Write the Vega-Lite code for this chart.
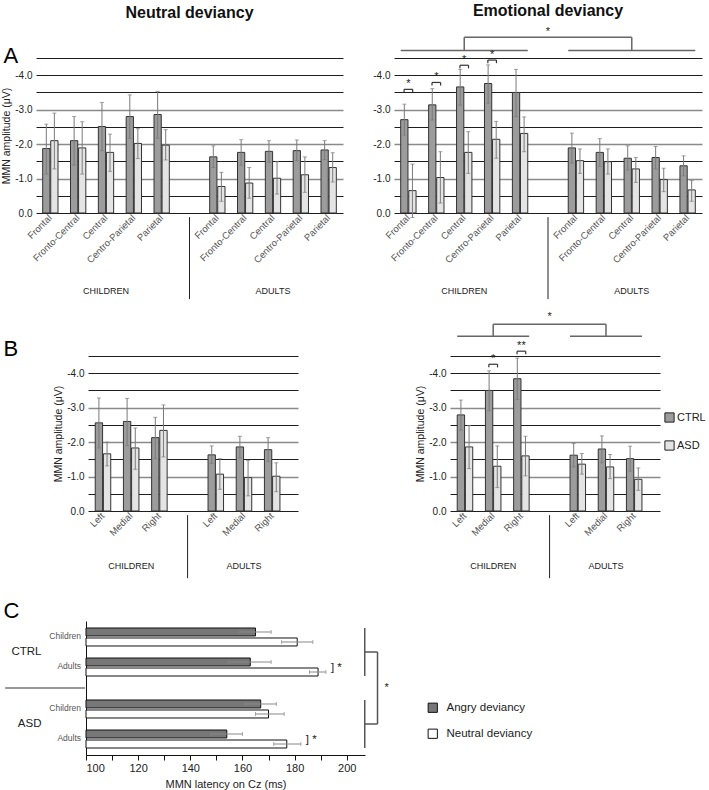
{
 "$schema": "https://vega.github.io/schema/vega-lite/v6.json",
 "padding": {"left": 1, "top": 2, "right": 1, "bottom": 2},
 "config": {"font": "Liberation Sans", "view": {"stroke": null}, "axis": {"labelFont": "Liberation Sans", "titleFont": "Liberation Sans"}, "legend": {"labelFont": "Liberation Sans"}},
 "datasets": {
  "amp": [
   {"p":"AN","k":"Children|Frontal","g":"CTRL","v":1.87,"lo":1.13,"hi":2.58},
   {"p":"AN","k":"Children|Frontal","g":"ASD","v":2.10,"lo":1.28,"hi":2.90},
   {"p":"AN","k":"Children|Fronto-Central","g":"CTRL","v":2.10,"lo":1.39,"hi":2.80},
   {"p":"AN","k":"Children|Fronto-Central","g":"ASD","v":1.89,"lo":1.13,"hi":2.65},
   {"p":"AN","k":"Children|Central","g":"CTRL","v":2.51,"lo":1.81,"hi":3.21},
   {"p":"AN","k":"Children|Central","g":"ASD","v":1.76,"lo":1.21,"hi":2.29},
   {"p":"AN","k":"Children|Centro-Parietal","g":"CTRL","v":2.80,"lo":2.17,"hi":3.43},
   {"p":"AN","k":"Children|Centro-Parietal","g":"ASD","v":2.02,"lo":1.58,"hi":2.45},
   {"p":"AN","k":"Children|Parietal","g":"CTRL","v":2.86,"lo":2.17,"hi":3.53},
   {"p":"AN","k":"Children|Parietal","g":"ASD","v":1.97,"lo":1.54,"hi":2.42},
   {"p":"AN","k":"Adults|Frontal","g":"CTRL","v":1.63,"lo":1.32,"hi":1.95},
   {"p":"AN","k":"Adults|Frontal","g":"ASD","v":0.77,"lo":0.34,"hi":1.18},
   {"p":"AN","k":"Adults|Fronto-Central","g":"CTRL","v":1.76,"lo":1.39,"hi":2.13},
   {"p":"AN","k":"Adults|Fronto-Central","g":"ASD","v":0.87,"lo":0.43,"hi":1.32},
   {"p":"AN","k":"Adults|Central","g":"CTRL","v":1.79,"lo":1.47,"hi":2.10},
   {"p":"AN","k":"Adults|Central","g":"ASD","v":1.01,"lo":0.55,"hi":1.49},
   {"p":"AN","k":"Adults|Centro-Parietal","g":"CTRL","v":1.81,"lo":1.52,"hi":2.12},
   {"p":"AN","k":"Adults|Centro-Parietal","g":"ASD","v":1.11,"lo":0.60,"hi":1.63},
   {"p":"AN","k":"Adults|Parietal","g":"CTRL","v":1.83,"lo":1.55,"hi":2.10},
   {"p":"AN","k":"Adults|Parietal","g":"ASD","v":1.32,"lo":0.90,"hi":1.75},
   {"p":"AE","k":"Children|Frontal","g":"CTRL","v":2.71,"lo":2.26,"hi":3.16},
   {"p":"AE","k":"Children|Frontal","g":"ASD","v":0.65,"lo":-0.13,"hi":1.42},
   {"p":"AE","k":"Children|Fronto-Central","g":"CTRL","v":3.14,"lo":2.70,"hi":3.61},
   {"p":"AE","k":"Children|Fronto-Central","g":"ASD","v":1.03,"lo":0.29,"hi":1.78},
   {"p":"AE","k":"Children|Central","g":"CTRL","v":3.66,"lo":3.13,"hi":4.17},
   {"p":"AE","k":"Children|Central","g":"ASD","v":1.76,"lo":1.15,"hi":2.36},
   {"p":"AE","k":"Children|Centro-Parietal","g":"CTRL","v":3.76,"lo":3.19,"hi":4.30},
   {"p":"AE","k":"Children|Centro-Parietal","g":"ASD","v":2.14,"lo":1.59,"hi":2.66},
   {"p":"AE","k":"Children|Parietal","g":"CTRL","v":3.50,"lo":2.80,"hi":4.17},
   {"p":"AE","k":"Children|Parietal","g":"ASD","v":2.31,"lo":1.78,"hi":2.79},
   {"p":"AE","k":"Adults|Frontal","g":"CTRL","v":1.89,"lo":1.45,"hi":2.32},
   {"p":"AE","k":"Adults|Frontal","g":"ASD","v":1.52,"lo":1.15,"hi":1.86},
   {"p":"AE","k":"Adults|Fronto-Central","g":"CTRL","v":1.76,"lo":1.35,"hi":2.16},
   {"p":"AE","k":"Adults|Fronto-Central","g":"ASD","v":1.49,"lo":1.13,"hi":1.86},
   {"p":"AE","k":"Adults|Central","g":"CTRL","v":1.59,"lo":1.25,"hi":1.95},
   {"p":"AE","k":"Adults|Central","g":"ASD","v":1.28,"lo":0.89,"hi":1.61},
   {"p":"AE","k":"Adults|Centro-Parietal","g":"CTRL","v":1.61,"lo":1.28,"hi":1.93},
   {"p":"AE","k":"Adults|Centro-Parietal","g":"ASD","v":0.97,"lo":0.62,"hi":1.30},
   {"p":"AE","k":"Adults|Parietal","g":"CTRL","v":1.37,"lo":1.08,"hi":1.66},
   {"p":"AE","k":"Adults|Parietal","g":"ASD","v":0.67,"lo":0.34,"hi":0.94},
   {"p":"BN","k":"Children|Left","g":"CTRL","v":2.56,"lo":1.83,"hi":3.28},
   {"p":"BN","k":"Children|Left","g":"ASD","v":1.66,"lo":1.31,"hi":2.00},
   {"p":"BN","k":"Children|Medial","g":"CTRL","v":2.60,"lo":1.90,"hi":3.27},
   {"p":"BN","k":"Children|Medial","g":"ASD","v":1.83,"lo":1.21,"hi":2.41},
   {"p":"BN","k":"Children|Right","g":"CTRL","v":2.13,"lo":1.52,"hi":2.72},
   {"p":"BN","k":"Children|Right","g":"ASD","v":2.34,"lo":1.57,"hi":3.08},
   {"p":"BN","k":"Adults|Left","g":"CTRL","v":1.63,"lo":1.38,"hi":1.89},
   {"p":"BN","k":"Adults|Left","g":"ASD","v":1.07,"lo":0.63,"hi":1.52},
   {"p":"BN","k":"Adults|Medial","g":"CTRL","v":1.86,"lo":1.54,"hi":2.17},
   {"p":"BN","k":"Adults|Medial","g":"ASD","v":0.97,"lo":0.44,"hi":1.47},
   {"p":"BN","k":"Adults|Right","g":"CTRL","v":1.78,"lo":1.44,"hi":2.13},
   {"p":"BN","k":"Adults|Right","g":"ASD","v":1.01,"lo":0.56,"hi":1.40},
   {"p":"BE","k":"Children|Left","g":"CTRL","v":2.79,"lo":2.35,"hi":3.22},
   {"p":"BE","k":"Children|Left","g":"ASD","v":1.86,"lo":1.23,"hi":2.48},
   {"p":"BE","k":"Children|Medial","g":"CTRL","v":3.50,"lo":2.91,"hi":4.07},
   {"p":"BE","k":"Children|Medial","g":"ASD","v":1.30,"lo":0.68,"hi":1.89},
   {"p":"BE","k":"Children|Right","g":"CTRL","v":3.84,"lo":3.24,"hi":4.44},
   {"p":"BE","k":"Children|Right","g":"ASD","v":1.60,"lo":1.02,"hi":2.17},
   {"p":"BE","k":"Adults|Left","g":"CTRL","v":1.62,"lo":1.28,"hi":1.96},
   {"p":"BE","k":"Adults|Left","g":"ASD","v":1.36,"lo":1.07,"hi":1.67},
   {"p":"BE","k":"Adults|Medial","g":"CTRL","v":1.80,"lo":1.40,"hi":2.18},
   {"p":"BE","k":"Adults|Medial","g":"ASD","v":1.28,"lo":0.94,"hi":1.64},
   {"p":"BE","k":"Adults|Right","g":"CTRL","v":1.52,"lo":1.16,"hi":1.88},
   {"p":"BE","k":"Adults|Right","g":"ASD","v":0.92,"lo":0.60,"hi":1.25}
  ],
  "lat": [
   {"grp":"CTRL","k":"Children Angry","age":"Children","cond":"Angry deviancy","lat":165,"lo":159,"hi":171},
   {"grp":"CTRL","k":"Children Neutral","age":"Children","cond":"Neutral deviancy","lat":181,"lo":175,"hi":187},
   {"grp":"CTRL","k":"Adults Angry","age":"Adults","cond":"Angry deviancy","lat":163,"lo":154.5,"hi":171},
   {"grp":"CTRL","k":"Adults Neutral","age":"Adults","cond":"Neutral deviancy","lat":189,"lo":185.7,"hi":192},
   {"grp":"ASD","k":"Children Angry","age":"Children","cond":"Angry deviancy","lat":167,"lo":161,"hi":173},
   {"grp":"ASD","k":"Children Neutral","age":"Children","cond":"Neutral deviancy","lat":170,"lo":165,"hi":176},
   {"grp":"ASD","k":"Adults Angry","age":"Adults","cond":"Angry deviancy","lat":154,"lo":148,"hi":160},
   {"grp":"ASD","k":"Adults Neutral","age":"Adults","cond":"Neutral deviancy","lat":177,"lo":172,"hi":182.4}
  ]
 },
 "columns": 1,
 "spacing": 10,
 "resolve": {"scale": {"x": "independent", "y": "independent", "xOffset": "independent", "yOffset": "independent", "fill": "independent"}, "legend": {"fill": "independent"}},
 "concat": [
  {
   "spacing": 29,
   "resolve": {"scale": {"x": "independent", "y": "independent", "xOffset": "independent", "fill": "independent"}, "legend": {"fill": "independent"}},
   "hconcat": [
    {
     "width": 307, "height": 155,
     "title": {"text": "Neutral deviancy", "fontSize": 16, "font": "Liberation Sans", "fontWeight": "bold", "anchor": "middle", "offset": 23, "color": "#111"},
     "resolve": {"axis": {"y": "independent"}},
     "layer": [
      {
       "data": {"name": "amp"},
       "transform": [{"filter": "datum.p == 'AN'"}],
       "encoding": {
        "x": {"field": "k", "type": "nominal", "sort": null,
              "scale": {"domain": ["Children|Frontal","Children|Fronto-Central","Children|Central","Children|Centro-Parietal","Children|Parietal","gap","Adults|Frontal","Adults|Fronto-Central","Adults|Central","Adults|Centro-Parietal","Adults|Parietal"], "paddingInner": 0.45, "paddingOuter": 0.24, "align": 0.5},
              "axis": {"title": null, "labelAngle": -45, "labelAlign": "right", "labelBaseline": "middle", "labelPadding": 3, "ticks": false, "domain": false, "grid": false, "labelColor": "#555", "labelFontSize": 9.5, "labelOverlap": false, "labelExpr": "indexof(datum.label, '|') >= 0 ? split(datum.label, '|')[1] : ''"}},
        "xOffset": {"field": "g", "type": "nominal", "scale": {"domain": ["CTRL","ASD"], "paddingInner": 0.1}}
       },
       "layer": [
        {"mark": {"type": "bar", "stroke": "#333", "strokeWidth": 1},
         "encoding": {
          "y": {"field": "v", "type": "quantitative", "scale": {"domain": [0, 4.5], "nice": false},
                "axis": {"title": "MMN amplitude (μV)", "tickCount": 9, "tickMinStep": 0.5, "labelExpr": "datum.value == 0 ? '0.0' : (datum.value % 1 == 0 && datum.value < 4.5 ? '-' + format(datum.value, '.1f') : '')", "grid": true, "gridColor": {"condition": {"test": "datum.value % 1 == 0 && datum.value > 0 && datum.value < 4", "value": "#8a8a8a"}, "value": "#1e1e1e"}, "gridWidth": {"condition": {"test": "datum.value % 1 == 0 && datum.value > 0 && datum.value < 4", "value": 1.6}, "value": 1}, "domain": false, "ticks": false, "labelPadding": 4, "labelFontSize": 10, "labelColor": "#222", "titleFontSize": 10.5, "titleFontWeight": "normal", "titlePadding": 3, "titleColor": "#222"}},
          "fill": {"field": "g", "type": "nominal", "scale": {"domain": ["CTRL","ASD"], "range": ["#9c9c9c","#e4e4e4"]}, "legend": null}}},
        {"mark": {"type": "rule", "color": "#7a7a7a"}, "encoding": {"y": {"field": "lo", "type": "quantitative", "scale": {"domain": [0, 4.5], "nice": false}}, "y2": {"field": "hi"}}},
        {"mark": {"type": "tick", "color": "#7a7a7a", "size": 4, "thickness": 1}, "encoding": {"y": {"field": "lo", "type": "quantitative", "scale": {"domain": [0, 4.5], "nice": false}}}},
        {"mark": {"type": "tick", "color": "#7a7a7a", "size": 4, "thickness": 1}, "encoding": {"y": {"field": "hi", "type": "quantitative", "scale": {"domain": [0, 4.5], "nice": false}}}}
       ]
      },
      {"data": {"values": [{}]}, "mark": {"type": "rule", "color": "#222"},
       "encoding": {"x": {"datum": "gap", "type": "nominal"}, "y": {"datum": -0.12, "type": "quantitative", "scale": {"domain": [0, 4.5], "nice": false},
        "axis": {"orient": "left", "title": "A", "titleAngle": 0, "titleX": -33, "titleY": 4, "titleAlign": "left", "titleBaseline": "alphabetic", "titleFontSize": 22, "titleFontWeight": "normal", "titleColor": "#000", "labels": false, "ticks": false, "domain": false, "grid": false}},
        "y2": {"datum": -2.5}}},
      {"data": {"values": [{"t": "CHILDREN", "k": "Children|Central"}, {"t": "ADULTS", "k": "Adults|Central"}]},
       "mark": {"type": "text", "fontSize": 9, "color": "#222"},
       "encoding": {"x": {"field": "k", "type": "nominal"}, "y": {"datum": -2.26, "type": "quantitative", "scale": {"domain": [0, 4.5], "nice": false}, "axis": null}, "text": {"field": "t"}}}
     ]
    },
    {
     "width": 308, "height": 155,
     "title": {"text": "Emotional deviancy", "fontSize": 16, "font": "Liberation Sans", "fontWeight": "bold", "anchor": "middle", "offset": 7, "color": "#111"},
     "layer": [
      {
       "data": {"name": "amp"},
       "transform": [{"filter": "datum.p == 'AE'"}],
       "encoding": {
        "x": {"field": "k", "type": "nominal", "sort": null,
              "scale": {"domain": ["Children|Frontal","Children|Fronto-Central","Children|Central","Children|Centro-Parietal","Children|Parietal","gap","Adults|Frontal","Adults|Fronto-Central","Adults|Central","Adults|Centro-Parietal","Adults|Parietal"], "paddingInner": 0.45, "paddingOuter": 0.24, "align": 0.5},
              "axis": {"title": null, "labelAngle": -45, "labelAlign": "right", "labelBaseline": "middle", "labelPadding": 3, "ticks": false, "domain": false, "grid": false, "labelColor": "#555", "labelFontSize": 9.5, "labelOverlap": false, "labelExpr": "indexof(datum.label, '|') >= 0 ? split(datum.label, '|')[1] : ''"}},
        "xOffset": {"field": "g", "type": "nominal", "scale": {"domain": ["CTRL","ASD"], "paddingInner": 0.1}}
       },
       "layer": [
        {"mark": {"type": "bar", "stroke": "#333", "strokeWidth": 1},
         "encoding": {
          "y": {"field": "v", "type": "quantitative", "scale": {"domain": [0, 4.5], "nice": false},
                "axis": {"title": null, "tickCount": 9, "tickMinStep": 0.5, "labelExpr": "datum.value == 0 ? '0.0' : (datum.value % 1 == 0 && datum.value < 4.5 ? '-' + format(datum.value, '.1f') : '')", "grid": true, "gridColor": {"condition": {"test": "datum.value % 1 == 0 && datum.value > 0 && datum.value < 4", "value": "#8a8a8a"}, "value": "#1e1e1e"}, "gridWidth": {"condition": {"test": "datum.value % 1 == 0 && datum.value > 0 && datum.value < 4", "value": 1.6}, "value": 1}, "domain": false, "ticks": false, "labelPadding": 4, "labelFontSize": 10, "labelColor": "#222"}},
          "fill": {"field": "g", "type": "nominal", "scale": {"domain": ["CTRL","ASD"], "range": ["#9c9c9c","#e4e4e4"]}, "legend": null}}},
        {"mark": {"type": "rule", "color": "#7a7a7a"}, "encoding": {"y": {"field": "lo", "type": "quantitative", "scale": {"domain": [0, 4.5], "nice": false}}, "y2": {"field": "hi"}}},
        {"mark": {"type": "tick", "color": "#7a7a7a", "size": 4, "thickness": 1}, "encoding": {"y": {"field": "lo", "type": "quantitative", "scale": {"domain": [0, 4.5], "nice": false}}}},
        {"mark": {"type": "tick", "color": "#7a7a7a", "size": 4, "thickness": 1}, "encoding": {"y": {"field": "hi", "type": "quantitative", "scale": {"domain": [0, 4.5], "nice": false}}}}
       ]
      },
      {"data": {"values": [{}]}, "mark": {"type": "rule", "color": "#222"},
       "encoding": {"x": {"datum": "gap", "type": "nominal"}, "y": {"datum": -0.12, "type": "quantitative", "scale": {"domain": [0, 4.5], "nice": false}}, "y2": {"datum": -2.5}}},
      {"data": {"values": [{"t": "CHILDREN", "k": "Children|Central"}, {"t": "ADULTS", "k": "Adults|Central"}]},
       "mark": {"type": "text", "fontSize": 9, "color": "#222"},
       "encoding": {"x": {"field": "k", "type": "nominal"}, "y": {"datum": -2.26, "type": "quantitative", "scale": {"domain": [0, 4.5], "nice": false}}, "text": {"field": "t"}}},
      {"data": {"values": [{"a": "Children|Frontal", "b": "Children|Parietal", "y": 4.72}, {"a": "Adults|Frontal", "b": "Adults|Parietal", "y": 4.72}]},
       "mark": {"type": "rule", "color": "#666", "strokeWidth": 1.5},
       "encoding": {"x": {"field": "a", "type": "nominal", "bandPosition": 0}, "x2": {"field": "b", "bandPosition": 1}, "y": {"field": "y", "type": "quantitative"}}},
      {"data": {"values": [{"a": "Children|Central", "y": 4.72, "y2": 5.1}, {"a": "Adults|Central", "y": 4.72, "y2": 5.1}]},
       "mark": {"type": "rule", "color": "#666", "strokeWidth": 1.5},
       "encoding": {"x": {"field": "a", "type": "nominal"}, "y": {"field": "y", "type": "quantitative"}, "y2": {"field": "y2"}}},
      {"data": {"values": [{"a": "Children|Central", "b": "Adults|Central", "y": 5.1}]},
       "mark": {"type": "rule", "color": "#666", "strokeWidth": 1.5},
       "encoding": {"x": {"field": "a", "type": "nominal"}, "x2": {"field": "b"}, "y": {"field": "y", "type": "quantitative"}}},
      {"data": {"values": [{"t": "*"}]},
       "mark": {"type": "text", "fontSize": 11, "baseline": "bottom", "color": "#222"},
       "encoding": {"x": {"datum": "gap", "type": "nominal"}, "y": {"datum": 5.12, "type": "quantitative"}, "text": {"field": "t"}}},
      {"data": {"values": [{"k": "Children|Frontal", "y": 3.59, "y0": 3.5}, {"k": "Children|Fronto-Central", "y": 3.79, "y0": 3.7}, {"k": "Children|Central", "y": 4.29, "y0": 4.2}, {"k": "Children|Centro-Parietal", "y": 4.44, "y0": 4.35}]},
       "layer": [
        {"mark": {"type": "rule", "color": "#333", "strokeWidth": 1.2}, "encoding": {"x": {"field": "k", "type": "nominal", "bandPosition": 0.22}, "x2": {"field": "k", "bandPosition": 0.78}, "y": {"field": "y", "type": "quantitative"}}},
        {"mark": {"type": "rule", "color": "#333", "strokeWidth": 1.2}, "encoding": {"x": {"field": "k", "type": "nominal", "bandPosition": 0.22}, "y": {"field": "y", "type": "quantitative"}, "y2": {"field": "y0"}}},
        {"mark": {"type": "rule", "color": "#333", "strokeWidth": 1.2}, "encoding": {"x": {"field": "k", "type": "nominal", "bandPosition": 0.78}, "y": {"field": "y", "type": "quantitative"}, "y2": {"field": "y0"}}},
        {"mark": {"type": "text", "fontSize": 11, "baseline": "bottom", "color": "#222", "text": "*"}, "encoding": {"x": {"field": "k", "type": "nominal"}, "y": {"field": "y", "type": "quantitative"}}}
       ]
      }
     ]
    }
   ]
  },
  {
   "columns": 1,
   "spacing": 20,
   "resolve": {"scale": {"x": "independent", "y": "independent", "xOffset": "independent", "yOffset": "independent", "fill": "independent"}, "legend": {"fill": "independent"}},
   "concat": [
    {
     "spacing": -34,
     "resolve": {"scale": {"x": "independent", "y": "independent", "xOffset": "independent", "fill": "independent"}, "legend": {"fill": "independent"}},
     "hconcat": [
      {"width": 1, "height": 1, "data": {"values": [{}]}, "mark": {"type": "point", "size": 0, "opacity": 0}},
      {
       "spacing": 117,
       "resolve": {"scale": {"x": "independent", "y": "independent", "xOffset": "independent", "fill": "independent"}, "legend": {"fill": "independent"}},
       "hconcat": [
        {
         "width": 210, "height": 155,
         "resolve": {"axis": {"y": "independent"}},
         "layer": [
          {
           "data": {"name": "amp"},
           "transform": [{"filter": "datum.p == 'BN'"}],
           "encoding": {
            "x": {"field": "k", "type": "nominal", "sort": null,
                  "scale": {"domain": ["Children|Left","Children|Medial","Children|Right","gap","Adults|Left","Adults|Medial","Adults|Right"], "paddingInner": 0.45, "paddingOuter": 0.4485, "align": 0.286},
                  "axis": {"title": null, "labelAngle": -45, "labelAlign": "right", "labelBaseline": "middle", "labelPadding": 3, "ticks": false, "domain": false, "grid": false, "labelColor": "#555", "labelFontSize": 9.5, "labelOverlap": false, "labelExpr": "indexof(datum.label, '|') >= 0 ? split(datum.label, '|')[1] : ''"}},
            "xOffset": {"field": "g", "type": "nominal", "scale": {"domain": ["CTRL","ASD"], "paddingInner": 0.1}}
           },
           "layer": [
            {"mark": {"type": "bar", "stroke": "#333", "strokeWidth": 1},
             "encoding": {
              "y": {"field": "v", "type": "quantitative", "scale": {"domain": [0, 4.5], "nice": false},
                    "axis": {"title": "MMN amplitude (μV)", "tickCount": 9, "tickMinStep": 0.5, "labelExpr": "datum.value == 0 ? '0.0' : (datum.value % 1 == 0 && datum.value < 4.5 ? '-' + format(datum.value, '.1f') : '')", "grid": true, "gridColor": {"condition": {"test": "datum.value % 1 == 0 && datum.value > 0 && datum.value < 4", "value": "#8a8a8a"}, "value": "#1e1e1e"}, "gridWidth": {"condition": {"test": "datum.value % 1 == 0 && datum.value > 0 && datum.value < 4", "value": 1.6}, "value": 1}, "domain": false, "ticks": false, "labelPadding": 4, "labelFontSize": 10, "labelColor": "#222", "titleFontSize": 10.5, "titleFontWeight": "normal", "titlePadding": 3, "titleColor": "#222"}},
              "fill": {"field": "g", "type": "nominal", "scale": {"domain": ["CTRL","ASD"], "range": ["#9c9c9c","#e4e4e4"]}, "legend": null}}},
            {"mark": {"type": "rule", "color": "#7a7a7a"}, "encoding": {"y": {"field": "lo", "type": "quantitative", "scale": {"domain": [0, 4.5], "nice": false}}, "y2": {"field": "hi"}}},
            {"mark": {"type": "tick", "color": "#7a7a7a", "size": 4, "thickness": 1}, "encoding": {"y": {"field": "lo", "type": "quantitative", "scale": {"domain": [0, 4.5], "nice": false}}}},
            {"mark": {"type": "tick", "color": "#7a7a7a", "size": 4, "thickness": 1}, "encoding": {"y": {"field": "hi", "type": "quantitative", "scale": {"domain": [0, 4.5], "nice": false}}}}
           ]
          },
          {"data": {"values": [{}]}, "mark": {"type": "rule", "color": "#222"},
           "encoding": {"x": {"datum": "gap", "type": "nominal"}, "y": {"datum": -0.12, "type": "quantitative", "scale": {"domain": [0, 4.5], "nice": false},
            "axis": {"orient": "left", "title": "B", "titleAngle": 0, "titleX": -85, "titleY": -1, "titleAlign": "left", "titleBaseline": "alphabetic", "titleFontSize": 22, "titleFontWeight": "normal", "titleColor": "#000", "labels": false, "ticks": false, "domain": false, "grid": false}},
            "y2": {"datum": -1.95}}},
          {"data": {"values": [{"t": "CHILDREN", "k": "Children|Medial"}, {"t": "ADULTS", "k": "Adults|Medial"}]},
           "mark": {"type": "text", "fontSize": 9, "color": "#222"},
           "encoding": {"x": {"field": "k", "type": "nominal"}, "y": {"datum": -1.6, "type": "quantitative", "scale": {"domain": [0, 4.5], "nice": false}, "axis": null}, "text": {"field": "t"}}}
         ]
        },
        {
         "width": 210, "height": 155,
         "layer": [
          {
           "data": {"name": "amp"},
           "transform": [{"filter": "datum.p == 'BE'"}],
           "encoding": {
            "x": {"field": "k", "type": "nominal", "sort": null,
                  "scale": {"domain": ["Children|Left","Children|Medial","Children|Right","gap","Adults|Left","Adults|Medial","Adults|Right"], "paddingInner": 0.45, "paddingOuter": 0.4485, "align": 0.286},
                  "axis": {"title": null, "labelAngle": -45, "labelAlign": "right", "labelBaseline": "middle", "labelPadding": 3, "ticks": false, "domain": false, "grid": false, "labelColor": "#555", "labelFontSize": 9.5, "labelOverlap": false, "labelExpr": "indexof(datum.label, '|') >= 0 ? split(datum.label, '|')[1] : ''"}},
            "xOffset": {"field": "g", "type": "nominal", "scale": {"domain": ["CTRL","ASD"], "paddingInner": 0.1}}
           },
           "layer": [
            {"mark": {"type": "bar", "stroke": "#333", "strokeWidth": 1},
             "encoding": {
              "y": {"field": "v", "type": "quantitative", "scale": {"domain": [0, 4.5], "nice": false},
                    "axis": {"title": "MMN amplitude (μV)", "tickCount": 9, "tickMinStep": 0.5, "labelExpr": "datum.value == 0 ? '0.0' : (datum.value % 1 == 0 && datum.value < 4.5 ? '-' + format(datum.value, '.1f') : '')", "grid": true, "gridColor": {"condition": {"test": "datum.value % 1 == 0 && datum.value > 0 && datum.value < 4", "value": "#8a8a8a"}, "value": "#1e1e1e"}, "gridWidth": {"condition": {"test": "datum.value % 1 == 0 && datum.value > 0 && datum.value < 4", "value": 1.6}, "value": 1}, "domain": false, "ticks": false, "labelPadding": 4, "labelFontSize": 10, "labelColor": "#222", "titleFontSize": 10.5, "titleFontWeight": "normal", "titlePadding": 3, "titleColor": "#222"}},
              "fill": {"field": "g", "type": "nominal", "scale": {"domain": ["CTRL","ASD"], "range": ["#9c9c9c","#e4e4e4"]},
                       "legend": {"orient": "none", "legendX": 214, "legendY": 56, "title": null, "symbolType": "square", "symbolSize": 85, "symbolStrokeColor": "#222", "symbolStrokeWidth": 1, "labelFontSize": 11, "labelColor": "#222", "rowPadding": 13, "labelOffset": 2}}}},
            {"mark": {"type": "rule", "color": "#7a7a7a"}, "encoding": {"y": {"field": "lo", "type": "quantitative", "scale": {"domain": [0, 4.5], "nice": false}}, "y2": {"field": "hi"}}},
            {"mark": {"type": "tick", "color": "#7a7a7a", "size": 4, "thickness": 1}, "encoding": {"y": {"field": "lo", "type": "quantitative", "scale": {"domain": [0, 4.5], "nice": false}}}},
            {"mark": {"type": "tick", "color": "#7a7a7a", "size": 4, "thickness": 1}, "encoding": {"y": {"field": "hi", "type": "quantitative", "scale": {"domain": [0, 4.5], "nice": false}}}}
           ]
          },
          {"data": {"values": [{}]}, "mark": {"type": "rule", "color": "#222"},
           "encoding": {"x": {"datum": "gap", "type": "nominal"}, "y": {"datum": -0.12, "type": "quantitative", "scale": {"domain": [0, 4.5], "nice": false}}, "y2": {"datum": -1.95}}},
          {"data": {"values": [{"t": "CHILDREN", "k": "Children|Medial"}, {"t": "ADULTS", "k": "Adults|Medial"}]},
           "mark": {"type": "text", "fontSize": 9, "color": "#222"},
           "encoding": {"x": {"field": "k", "type": "nominal"}, "y": {"datum": -1.6, "type": "quantitative"}, "text": {"field": "t"}}},
          {"data": {"values": [{"a": "Children|Left", "b": "Children|Right", "y": 5.07}, {"a": "Adults|Left", "b": "Adults|Right", "y": 5.07}]},
           "mark": {"type": "rule", "color": "#666", "strokeWidth": 1.5},
           "encoding": {"x": {"field": "a", "type": "nominal", "bandPosition": 0}, "x2": {"field": "b", "bandPosition": 1}, "y": {"field": "y", "type": "quantitative"}}},
          {"data": {"values": [{"a": "Children|Medial", "y": 5.07, "y2": 5.42}, {"a": "Adults|Medial", "y": 5.07, "y2": 5.42}]},
           "mark": {"type": "rule", "color": "#666", "strokeWidth": 1.5},
           "encoding": {"x": {"field": "a", "type": "nominal"}, "y": {"field": "y", "type": "quantitative"}, "y2": {"field": "y2"}}},
          {"data": {"values": [{"a": "Children|Medial", "b": "Adults|Medial", "y": 5.42}]},
           "mark": {"type": "rule", "color": "#666", "strokeWidth": 1.5},
           "encoding": {"x": {"field": "a", "type": "nominal"}, "x2": {"field": "b"}, "y": {"field": "y", "type": "quantitative"}}},
          {"data": {"values": [{"t": "*"}]},
           "mark": {"type": "text", "fontSize": 11, "baseline": "bottom", "color": "#222"},
           "encoding": {"x": {"datum": "gap", "type": "nominal"}, "y": {"datum": 5.5, "type": "quantitative"}, "text": {"field": "t"}}},
          {"data": {"values": [{"k": "Children|Medial", "y": 4.26, "y0": 4.17, "t": "*"}, {"k": "Children|Right", "y": 4.64, "y0": 4.55, "t": "**"}]},
           "layer": [
            {"mark": {"type": "rule", "color": "#333", "strokeWidth": 1.2}, "encoding": {"x": {"field": "k", "type": "nominal", "bandPosition": 0.22}, "x2": {"field": "k", "bandPosition": 0.78}, "y": {"field": "y", "type": "quantitative"}}},
            {"mark": {"type": "rule", "color": "#333", "strokeWidth": 1.2}, "encoding": {"x": {"field": "k", "type": "nominal", "bandPosition": 0.22}, "y": {"field": "y", "type": "quantitative"}, "y2": {"field": "y0"}}},
            {"mark": {"type": "rule", "color": "#333", "strokeWidth": 1.2}, "encoding": {"x": {"field": "k", "type": "nominal", "bandPosition": 0.78}, "y": {"field": "y", "type": "quantitative"}, "y2": {"field": "y0"}}},
            {"mark": {"type": "text", "fontSize": 11, "baseline": "bottom", "color": "#222"}, "encoding": {"x": {"field": "k", "type": "nominal"}, "y": {"field": "y", "type": "quantitative"}, "text": {"field": "t"}}}
           ]
          }
         ]
        }
       ]
      }
     ]
    },
    {
     "spacing": -34,
     "resolve": {"scale": {"x": "independent", "y": "independent", "yOffset": "independent", "fill": "independent"}, "legend": {"fill": "independent"}},
     "hconcat": [
      {"width": 1, "height": 1, "data": {"values": [{}]}, "mark": {"type": "point", "size": 0, "opacity": 0}},
      {
       "width": 279, "height": 134,
       "data": {"name": "lat"},
       "layer": [
        {
         "encoding": {
          "y": {"field": "grp", "type": "nominal", "sort": null,
                "scale": {"domain": ["CTRL","ASD"], "paddingInner": 0.333, "paddingOuter": 0.097},
                "axis": {"title": "C", "titleAngle": 0, "titleX": -83, "titleY": -4, "titleAlign": "left", "titleBaseline": "alphabetic", "titleFontSize": 22, "titleFontWeight": "normal", "titleColor": "#000", "labelPadding": 45, "labelFontSize": 11.5, "labelColor": "#222", "ticks": false, "domain": true, "domainColor": "#111", "grid": false}},
          "yOffset": {"field": "k", "type": "nominal", "scale": {"domain": ["Children Angry","Children Neutral","gap","Adults Angry","Adults Neutral"], "paddingInner": 0.2}}
         },
         "layer": [
          {"mark": {"type": "bar", "stroke": "#111", "strokeWidth": 1},
           "encoding": {
            "x": {"field": "lat", "type": "quantitative", "scale": {"domain": [100, 207], "nice": false, "zero": false},
                  "axis": {"title": "MMN latency on Cz (ms)", "values": [100,110,120,130,140,150,160,170,180,190,200], "tickCount": 12, "labelExpr": "datum.value % 20 == 0 ? datum.label : ''", "tickSize": 5, "tickColor": "#111", "domainColor": "#111", "labelFontSize": 11, "labelColor": "#222", "titleFontSize": 11, "titleFontWeight": "normal", "titleColor": "#222", "labelPadding": 2, "titlePadding": 5, "grid": false}},
            "x2": {"datum": 100},
            "fill": {"field": "cond", "type": "nominal", "scale": {"domain": ["Angry deviancy","Neutral deviancy"], "range": ["#777777","#ffffff"]},
                     "legend": {"orient": "none", "legendX": 341, "legendY": 81, "title": null, "symbolType": "square", "symbolSize": 85, "symbolStrokeColor": "#111", "symbolStrokeWidth": 1, "labelFontSize": 11.5, "labelColor": "#222", "rowPadding": 12, "labelOffset": 8}}}},
          {"mark": {"type": "rule", "color": "#888"}, "encoding": {"x": {"field": "lo", "type": "quantitative"}, "x2": {"field": "hi"}}},
          {"mark": {"type": "tick", "color": "#888", "size": 4, "thickness": 1}, "encoding": {"x": {"field": "lo", "type": "quantitative"}}},
          {"mark": {"type": "tick", "color": "#888", "size": 4, "thickness": 1}, "encoding": {"x": {"field": "hi", "type": "quantitative"}}}
         ]
        },
        {"transform": [{"filter": "indexof(datum.k, 'Angry') >= 0"}],
         "mark": {"type": "text", "align": "right", "baseline": "top", "dx": -5, "fontSize": 8.5, "color": "#555"},
         "encoding": {"x": {"datum": 100, "type": "quantitative"}, "y": {"field": "grp", "type": "nominal"}, "yOffset": {"field": "k", "type": "nominal"}, "text": {"field": "age"}}},
        {"transform": [{"filter": "datum.k == 'Adults Neutral'"}],
         "mark": {"type": "text", "align": "left", "baseline": "top", "dx": 5, "fontSize": 11.5, "color": "#222", "text": "] *"},
         "encoding": {"x": {"field": "hi", "type": "quantitative"}, "y": {"field": "grp", "type": "nominal"}, "yOffset": {"datum": "Adults Angry"}}},
        {"data": {"values": [{"grp": "CTRL"}, {"grp": "ASD"}]},
         "layer": [
          {"mark": {"type": "rule", "color": "#555", "strokeWidth": 1.5}, "encoding": {"x": {"datum": 206.9, "type": "quantitative"}, "y": {"field": "grp", "type": "nominal", "bandPosition": 0}, "y2": {"field": "grp", "bandPosition": 1}}},
          {"mark": {"type": "rule", "color": "#555", "strokeWidth": 1.5}, "encoding": {"x": {"datum": 206.9, "type": "quantitative"}, "x2": {"datum": 211.8}, "y": {"field": "grp", "type": "nominal"}}}
         ]
        },
        {"data": {"values": [{}]},
         "mark": {"type": "rule", "color": "#555", "strokeWidth": 1.5},
         "encoding": {"x": {"datum": 211.8, "type": "quantitative"}, "y": {"datum": "CTRL", "type": "nominal"}, "y2": {"datum": "ASD"}}},
        {"data": {"values": [{"t": "*"}]},
         "mark": {"type": "text", "fontSize": 11, "color": "#222", "align": "left"},
         "encoding": {"x": {"datum": 214.5, "type": "quantitative"}, "y": {"datum": "ASD", "type": "nominal", "bandPosition": -0.25}, "text": {"field": "t"}}},
        {"data": {"values": [{}]},
         "mark": {"type": "rule", "color": "#333", "strokeWidth": 1.2},
         "encoding": {"x": {"datum": 69, "type": "quantitative"}, "x2": {"datum": 99.6}, "y": {"datum": "ASD", "type": "nominal", "bandPosition": -0.25}}}
       ]
      }
     ]
    }
   ]
  }
 ]
}
